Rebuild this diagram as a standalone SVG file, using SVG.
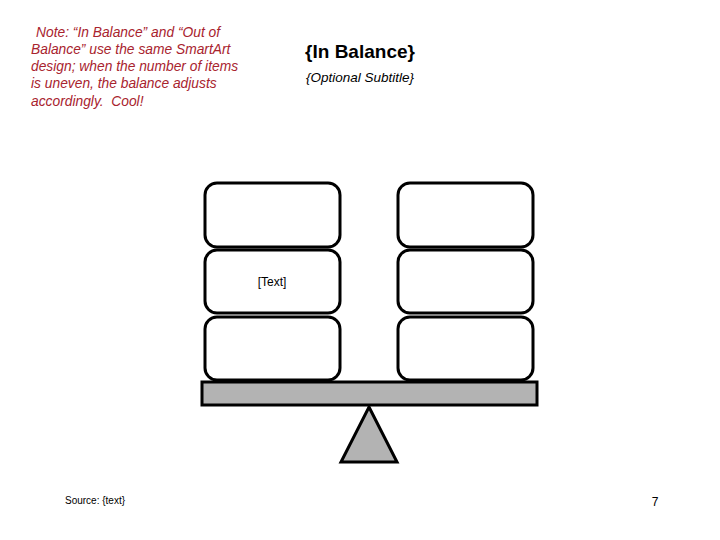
<svg xmlns="http://www.w3.org/2000/svg" width="720" height="540" viewBox="0 0 720 540">
<style>
.note{font-family:"Liberation Sans",Arial,sans-serif;font-size:13.8px;font-style:italic;fill:#a8232e}
.box{fill:#fff;stroke:#000;stroke-width:3}
.gray{fill:#b3b3b3;stroke:#000;stroke-width:3}
.t{font-family:"Liberation Sans",Arial,sans-serif;fill:#000}
</style>
<rect width="720" height="540" fill="#fff"/>
<g id="note">
<text class="note" x="36" y="37">Note: “In Balance” and “Out of</text>
<text class="note" x="31" y="54">Balance” use the same SmartArt</text>
<text class="note" x="31" y="71">design; when the number of items</text>
<text class="note" x="31" y="88">is uneven, the balance adjusts</text>
<text class="note" x="31" y="106">accordingly.&#160; Cool!</text>
</g>
<g id="title">
<text class="t" x="360" y="58" font-size="19" font-weight="bold" text-anchor="middle">{In Balance}</text>
<text class="t" x="360" y="82" font-size="13.5" font-style="italic" text-anchor="middle">{Optional Subtitle}</text>
</g>
<g id="left-top"><rect class="box" x="205" y="183" width="135" height="64" rx="12"/></g>
<g id="left-mid"><rect class="box" x="205" y="250" width="135" height="63" rx="12"/>
<text class="t" x="272" y="286" font-size="12" text-anchor="middle">[Text]</text></g>
<g id="left-bot"><rect class="box" x="205" y="317" width="135" height="63" rx="12"/></g>
<g id="right-top"><rect class="box" x="398" y="183" width="135" height="64" rx="12"/></g>
<g id="right-mid"><rect class="box" x="398" y="250" width="135" height="63" rx="12"/></g>
<g id="right-bot"><rect class="box" x="398" y="317" width="135" height="63" rx="12"/></g>
<g id="beam"><rect class="gray" x="202" y="382" width="335" height="23"/></g>
<g id="fulcrum"><polygon class="gray" points="369,407 397,462 341,462"/></g>
<g id="connectors"></g>
<g id="footer">
<text class="t" x="65" y="504" font-size="10">Source: {text}</text>
<text class="t" x="655" y="506" font-size="12" text-anchor="middle">7</text>
</g>
</svg>
